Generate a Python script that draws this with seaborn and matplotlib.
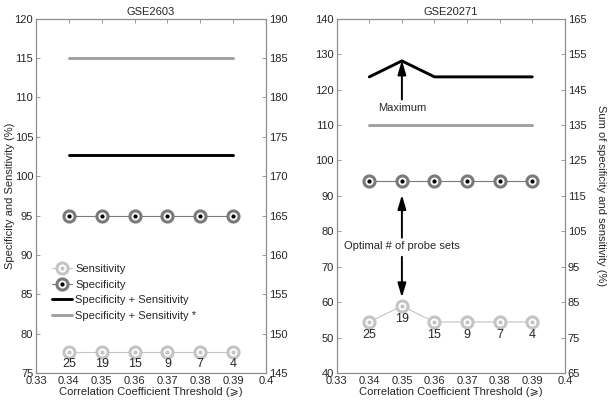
import numpy as np
import pandas as pd
import matplotlib
matplotlib.use("Agg")
import matplotlib.pyplot as plt
from matplotlib.lines import Line2D
import seaborn as sns

sns.set_style("white")
plt.rcParams['font.family'] = ['Liberation Sans', 'DejaVu Sans']

# data
thresholds = [0.34, 0.35, 0.36, 0.37, 0.38, 0.39]
n_probes_a = [25, 19, 15, 9, 7, 4]
n_probes_b = [25, 19, 15, 9, 7, 4]

sens_a = [77.7, 77.7, 77.7, 77.7, 77.7, 77.7]
spec_a = [95.0, 95.0, 95.0, 95.0, 95.0, 95.0]
sum_star_a = [185.0] * 6

sens_b = [54.4, 58.9, 54.4, 54.4, 54.4, 54.4]
spec_b = [94.2, 94.2, 94.2, 94.2, 94.2, 94.2]
sum_star_b = [135.0] * 6

sum_a = [s + p for s, p in zip(sens_a, spec_a)]
sum_b = [s + p for s, p in zip(sens_b, spec_b)]

xticks = [0.33, 0.34, 0.35, 0.36, 0.37, 0.38, 0.39, 0.4]
xticklabels = ['0.33', '0.34', '0.35', '0.36', '0.37', '0.38', '0.39', '0.4']

SPINE = '#8c8c8c'
SENS_C = '#c4c4c4'
SPEC_C = '#7a7a7a'


def style_axis(ax):
    for s in ax.spines.values():
        s.set_color(SPINE)
        s.set_linewidth(0.8)
    ax.tick_params(direction='in', length=3, width=0.6, color=SPINE,
                   labelsize=8, pad=2)


def draw_panel(ax, sens, spec, total, total_star, counts, ylim, yticks,
               y2lim, y2ticks, title):
    df = pd.DataFrame({'thr': thresholds, 'sens': sens, 'spec': spec})
    ax2 = ax.twinx()

    sns.lineplot(data=df, x='thr', y='sens', ax=ax, color=SENS_C, lw=0.8,
                 marker='o', markersize=8, markerfacecolor='white',
                 markeredgecolor=SENS_C, markeredgewidth=2.2, zorder=3)
    sns.lineplot(data=df, x='thr', y='sens', ax=ax, color=SENS_C, lw=0,
                 marker='o', markersize=3, markeredgewidth=0, zorder=4)
    sns.lineplot(data=df, x='thr', y='spec', ax=ax, color=SPEC_C, lw=0.8,
                 marker='o', markersize=8, markerfacecolor='white',
                 markeredgecolor=SPEC_C, markeredgewidth=2.2, zorder=3)
    sns.lineplot(data=df, x='thr', y='spec', ax=ax, color='black', lw=0,
                 marker='o', markersize=3, markeredgewidth=0, zorder=4)

    sns.lineplot(x=thresholds, y=total, ax=ax2, color='black', lw=2.1)
    sns.lineplot(x=thresholds, y=total_star, ax=ax2, color='#a0a0a0', lw=2.1)

    for x, y, c in zip(thresholds, sens, counts):
        ax.annotate(str(c), (x, y), xytext=(0, -9), textcoords='offset points',
                    ha='center', va='center', fontsize=9)

    ax.set_xlim(0.33, 0.4)
    ax.set_xticks(xticks)
    ax.set_xticklabels(xticklabels)
    ax.set_ylim(*ylim)
    ax.set_yticks(yticks)
    ax2.set_ylim(*y2lim)
    ax2.set_yticks(y2ticks)
    ax.tick_params(top=True)
    ax.set_xlabel('Correlation Coefficient Threshold (\u2a7e)', fontsize=8, labelpad=1)
    ax.set_ylabel('')
    ax2.set_ylabel('')
    ax.set_title(title, fontsize=8, pad=3)
    style_axis(ax)
    style_axis(ax2)
    ax.set_zorder(ax2.get_zorder() + 1)
    ax.patch.set_visible(False)
    return ax2


fig = plt.figure(figsize=(6.1, 4.03), dpi=100)
axA = fig.add_axes([0.059, 0.0744, 0.377, 0.879])
axB = fig.add_axes([0.552, 0.0744, 0.374, 0.879])

axA2 = draw_panel(axA, sens_a, spec_a, sum_a, sum_star_a, n_probes_a,
                  (75, 120), np.arange(75, 121, 5), (145, 190),
                  np.arange(145, 191, 5), 'GSE2603')
axB2 = draw_panel(axB, sens_b, spec_b, sum_b, sum_star_b, n_probes_b,
                  (40, 140), np.arange(40, 141, 10), (65, 165),
                  np.arange(65, 166, 10), 'GSE20271')

axA.set_ylabel('Specificity and Sensitivity (%)', fontsize=8, labelpad=0)
axB2.set_ylabel('Sum of specificity and sensitivity (%)', fontsize=8,
                rotation=270, labelpad=14)

# legend in left panel
h_sens = (Line2D([], [], color=SENS_C, lw=0.8, marker='o', ms=8, mfc='white',
                 mec=SENS_C, mew=2.2),
          Line2D([], [], color=SENS_C, lw=0, marker='o', ms=3, mew=0))
h_spec = (Line2D([], [], color=SPEC_C, lw=0.8, marker='o', ms=8, mfc='white',
                 mec=SPEC_C, mew=2.2),
          Line2D([], [], color='black', lw=0, marker='o', ms=3, mew=0))
h_sum = Line2D([], [], color='black', lw=2.1)
h_star = Line2D([], [], color='#a0a0a0', lw=2.1)
axA.legend([h_sens, h_spec, h_sum, h_star],
           ['Sensitivity', 'Specificity', 'Specificity + Sensitivity',
            'Specificity + Sensitivity *'],
           loc='lower left', bbox_to_anchor=(0.05, 0.135), frameon=False,
           fontsize=8, handlelength=1.8, handletextpad=0.3, labelspacing=0.5,
           borderaxespad=0)

# annotations in right panel
arrow = dict(arrowstyle='-|>,head_length=0.85,head_width=0.25', color='black',
             lw=1.4, mutation_scale=10, shrinkA=0, shrinkB=0)
axB.annotate('', xy=(0.35, 128.3), xytext=(0.35, 117.2), arrowprops=arrow)
axB.text(0.35, 114.9, 'Maximum', ha='center', va='center', fontsize=8)
axB.annotate('', xy=(0.35, 90.3), xytext=(0.35, 78.2), arrowprops=arrow)
axB.annotate('', xy=(0.35, 61.3), xytext=(0.35, 72.8), arrowprops=arrow)
axB.text(0.35, 75.9, 'Optimal # of probe sets', ha='center', va='center',
         fontsize=8)

fig.savefig('out.png', dpi=100)
